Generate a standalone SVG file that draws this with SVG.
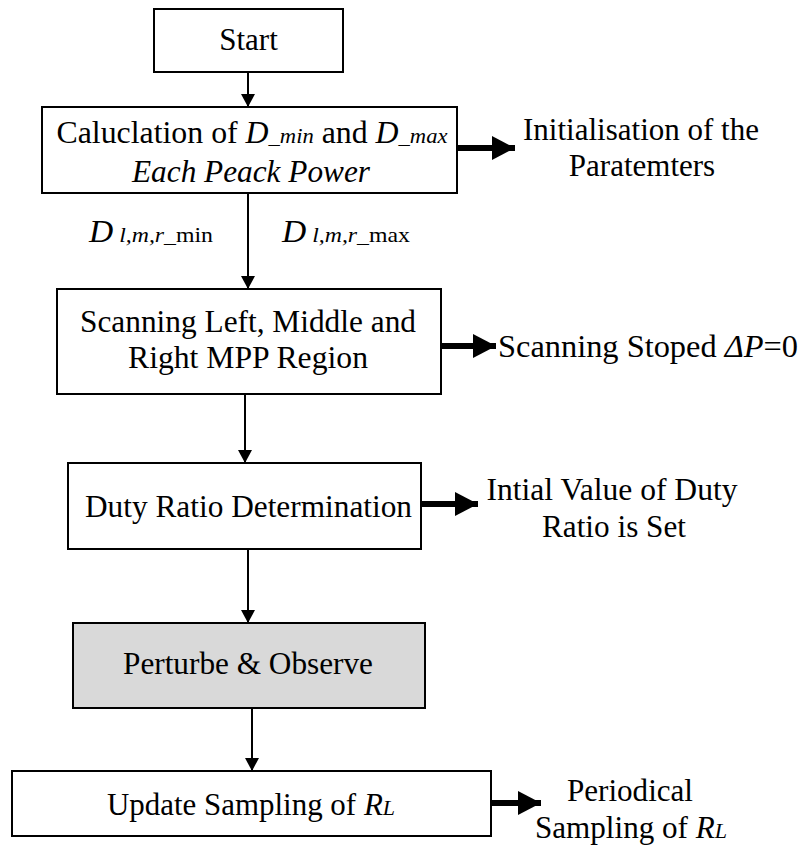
<svg xmlns="http://www.w3.org/2000/svg" width="801" height="848" viewBox="0 0 801 848">
  <style>
    .box { fill: #ffffff; stroke: #000000; stroke-width: 2; }
    .shaded { fill: #d9d9d9; }
    text { font-family: "Liberation Serif", "Times New Roman", serif; font-size: 31px; fill: #000000; }
    .mid { text-anchor: middle; }
    .it { font-style: italic; }
    .sm { font-size: 22px; }
    .flow { stroke: #000000; stroke-width: 2; fill: none; }
    .out { stroke: #000000; stroke-width: 6; fill: none; }
  </style>
  <defs>
    <marker id="tip" viewBox="0 0 13 14" refX="13" refY="7" markerWidth="13" markerHeight="14" markerUnits="userSpaceOnUse" orient="auto">
      <path d="M0,0 L13,7 L0,14 Z" fill="#000000"/>
    </marker>
    <marker id="bigtip" viewBox="0 0 23 24" refX="23" refY="12" markerWidth="23" markerHeight="24" markerUnits="userSpaceOnUse" orient="auto">
      <path d="M0,0 L23,12 L0,24 Z" fill="#000000"/>
    </marker>
  </defs>

  <!-- connectors -->
  <g id="connectors">
    <line class="flow" x1="248" y1="72" x2="248" y2="107" marker-end="url(#tip)"/>
    <line class="flow" x1="248" y1="193" x2="248" y2="289" marker-end="url(#tip)"/>
    <line class="flow" x1="245" y1="394" x2="245" y2="463" marker-end="url(#tip)"/>
    <line class="flow" x1="248" y1="549" x2="248" y2="623" marker-end="url(#tip)"/>
    <line class="flow" x1="252" y1="708" x2="252" y2="771" marker-end="url(#tip)"/>
    <line class="out" x1="457" y1="148" x2="515" y2="148" marker-end="url(#bigtip)"/>
    <line class="out" x1="441" y1="346" x2="496" y2="346" marker-end="url(#bigtip)"/>
    <line class="out" x1="421" y1="504" x2="478" y2="504" marker-end="url(#bigtip)"/>
    <line class="out" x1="491" y1="803" x2="541" y2="803" marker-end="url(#bigtip)"/>
    <!-- bounds passed down from the calculation step -->
    <text x="89" y="242" textLength="124" lengthAdjust="spacingAndGlyphs"><tspan class="it">D</tspan><tspan class="it sm"> l,m,r</tspan><tspan class="sm">_min</tspan></text>
    <text x="282" y="242" textLength="128" lengthAdjust="spacingAndGlyphs"><tspan class="it">D</tspan><tspan class="it sm"> l,m,r</tspan><tspan class="sm">_max</tspan></text>
  </g>

  <g id="start">
    <rect class="box" x="154" y="9" width="189" height="63"/>
    <text class="mid" x="248.5" y="50">Start</text>
  </g>

  <g id="calculation">
    <rect class="box" x="42" y="107" width="415" height="86"/>
    <text class="mid" x="252" y="143" textLength="391" lengthAdjust="spacingAndGlyphs">Caluclation of <tspan class="it">D</tspan><tspan class="it sm">_min</tspan> and <tspan class="it">D</tspan><tspan class="it sm">_max</tspan></text>
    <text class="mid it" x="251" y="182" textLength="238" lengthAdjust="spacingAndGlyphs">Each Peack Power</text>
  </g>

  <g id="initialisation">
    <text class="mid" x="641" y="140">Initialisation of the</text>
    <text class="mid" x="642" y="176">Paratemters</text>
  </g>

  <g id="scanning">
    <rect class="box" x="57" y="289" width="384" height="105"/>
    <text class="mid" x="248" y="332" textLength="336" lengthAdjust="spacingAndGlyphs">Scanning Left, Middle and</text>
    <text class="mid" x="248" y="368" textLength="240" lengthAdjust="spacingAndGlyphs">Right MPP Region</text>
  </g>

  <g id="scan-stop">
    <text x="498" y="357" textLength="300" lengthAdjust="spacingAndGlyphs">Scanning Stoped <tspan class="it">ΔP</tspan>=0</text>
  </g>

  <g id="duty-ratio">
    <rect class="box" x="68" y="463" width="353" height="86"/>
    <text class="mid" x="248.5" y="517" textLength="327" lengthAdjust="spacingAndGlyphs">Duty Ratio Determination</text>
  </g>

  <g id="initial-value">
    <text class="mid" x="612" y="500" textLength="251" lengthAdjust="spacingAndGlyphs">Intial Value of Duty</text>
    <text class="mid" x="614" y="537" textLength="144" lengthAdjust="spacingAndGlyphs">Ratio is Set</text>
  </g>

  <g id="perturb-observe">
    <rect class="box shaded" x="73" y="623" width="352" height="85"/>
    <text class="mid" x="248" y="674" textLength="250" lengthAdjust="spacingAndGlyphs">Perturbe &amp; Observe</text>
  </g>

  <g id="update-sampling">
    <rect class="box" x="12" y="771" width="479" height="65"/>
    <text class="mid" x="251" y="815" textLength="288" lengthAdjust="spacingAndGlyphs">Update Sampling of <tspan class="it">R</tspan><tspan class="it sm">L</tspan></text>
  </g>

  <g id="periodical">
    <text class="mid" x="630" y="801" textLength="126" lengthAdjust="spacingAndGlyphs">Periodical</text>
    <text class="mid" x="631" y="838" textLength="192" lengthAdjust="spacingAndGlyphs">Sampling of <tspan class="it">R</tspan><tspan class="it sm">L</tspan></text>
  </g>
</svg>
